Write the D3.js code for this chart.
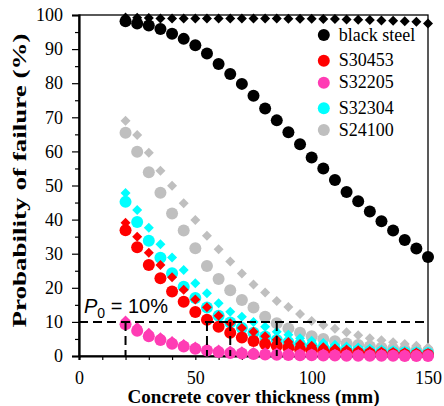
<!DOCTYPE html>
<html>
<head>
<meta charset="utf-8">
<title>Probability of failure vs cover</title>
<script src="https://cdn.jsdelivr.net/npm/d3@7/dist/d3.min.js"></script>
<style>
  body { margin: 0; background: #fff; }
</style>
</head>
<body>
<svg id="chart" width="444" height="406"></svg>
<script>
var serif = '"Liberation Serif", "Times New Roman", Times, serif';
var sans = '"Liberation Sans", Arial, Helvetica, sans-serif';

// cover thickness (mm)
var cover = [20, 25, 30, 35, 40, 45, 50, 55, 60, 65, 70, 75, 80, 85, 90, 95, 100,
  105, 110, 115, 120, 125, 130, 135, 140, 145, 150];

// probability of failure (%), circles and diamonds per steel
var blackCircle = [98.2, 97.5, 96.9, 95.9, 94.5, 93.0, 91.1, 88.7, 85.6, 82.7, 79.8, 76.3, 72.6, 69.1,
  65.6, 62.1, 58.2, 55.0, 51.6, 48.1, 45.4, 42.4, 39.5, 36.8, 34.0, 31.5, 29.0];
var blackDiamond = [99.3, 99.2, 99.1, 99.0, 99.0, 99.0, 99.0, 99.0, 99.0, 99.0, 99.0, 99.0, 99.0, 99.0,
  98.9, 98.9, 98.9, 98.8, 98.8, 98.7, 98.6, 98.5, 98.4, 98.3, 98.2, 98.0, 97.5];
var redCircle = [36.9, 31.9, 26.7, 22.8, 18.9, 15.9, 12.9, 10.6, 8.6, 6.8, 5.4, 4.4, 3.5, 2.9,
  2.4, 2.0, 1.7, 1.4, 1.2, 1.0, 0.85, 0.7, 0.6, 0.5, 0.45, 0.4, 0.35];
var redDiamond = [39.1, 35.0, 30.3, 26.7, 23.1, 19.4, 16.6, 14.3, 11.8, 9.6, 8.2, 7.1, 5.8, 4.8,
  4.1, 3.5, 3.0, 2.6, 2.2, 1.9, 1.7, 1.5, 1.3, 1.2, 1.1, 1.0, 0.9];
var pinkCircle = [9.3, 7.4, 5.8, 4.7, 3.6, 2.8, 2.1, 1.6, 1.2, 0.9, 0.7, 0.55, 0.45, 0.35,
  0.3, 0.25, 0.2, 0.15, 0.12, 0.1, 0.08, 0.06, 0.05, 0.04, 0.03, 0.02, 0.02];
var pinkDiamond = [10.4, 8.5, 6.8, 5.5, 4.4, 3.5, 2.8, 2.3, 1.9, 1.6, 1.4, 1.2, 1.1, 1.0,
  0.9, 0.8, 0.75, 0.7, 0.65, 0.6, 0.6, 0.55, 0.55, 0.5, 0.5, 0.5, 0.5];
var cyanCircle = [45.2, 39.3, 33.8, 28.8, 24.3, 20.3, 17.0, 14.2, 11.8, 9.8, 8.2, 6.8, 5.7, 4.7,
  4.0, 3.4, 2.9, 2.5, 2.1, 1.8, 1.6, 1.4, 1.2, 1.1, 1.0, 0.9, 0.8];
var cyanDiamond = [47.8, 42.8, 37.6, 32.8, 28.9, 25.2, 21.3, 18.4, 15.5, 13.0, 11.5, 10.0, 8.6, 7.1,
  6.2, 5.2, 4.5, 3.8, 3.3, 2.8, 2.5, 2.2, 1.9, 1.7, 1.5, 1.4, 1.3];
var grayCircle = [65.5, 59.9, 53.9, 47.9, 41.8, 36.8, 31.6, 26.4, 22.6, 19.3, 16.4, 14.2, 11.5, 9.6,
  8.1, 6.8, 5.8, 5.0, 4.3, 3.7, 3.2, 2.8, 2.4, 2.1, 1.8, 1.6, 1.4];
var grayDiamond = [69.0, 64.8, 59.6, 54.3, 49.9, 44.8, 39.9, 35.3, 31.3, 27.7, 24.2, 21.0, 18.6, 16.1,
  14.4, 12.3, 10.3, 9.1, 8.0, 7.0, 6.1, 5.2, 4.6, 4.0, 3.5, 3.0, 2.5];

var legendNames = ['black steel', 'S30453', 'S32205', 'S32304', 'S24100'];
var legendColors = ['#000000', '#ff0000', '#ff3cb4', '#00ffff', '#bfbfbf'];

// tick values
var xTicks = [0, 10, 20, 30, 40, 50, 60, 70, 80, 90, 100, 110, 120, 130, 140, 150];
var yTicks = [0, 10, 20, 30, 40, 50, 60, 70, 80, 90, 100];
var yMinor = [5, 15, 25, 35, 45, 55, 65, 75, 85, 95];

// P0 threshold and the cover where each steel reaches it
var p0 = 10;
var p0Covers = [20, 55, 65, 85];

var svg = d3.select('#chart'),
  margin = { top: 15, right: 16, bottom: 50, left: 79 },
  width = +svg.attr('width') - margin.left - margin.right,
  height = +svg.attr('height') - margin.top - margin.bottom,
  g = svg.append('g').attr('transform', 'translate(' + margin.left + ',' + margin.top + ')');

var x = d3.scaleLinear().domain([0, 150]).range([0, width]);
var y = d3.scaleLinear().domain([0, 100]).range([height, 0]);

// frame
g.append('rect')
  .attr('width', width).attr('height', height)
  .attr('fill', 'none').attr('stroke', '#000').attr('stroke-width', 1.3);

// x axis: ticks every 10, labels every 50
var xAxis = g.append('g')
  .attr('transform', 'translate(0,' + height + ')')
  .call(d3.axisBottom(x)
    .tickValues(xTicks)
    .tickSize(4).tickPadding(11)
    .tickFormat(function(d) { return d % 50 === 0 ? d : ''; }));

// y axis: minor ticks at 5s, labelled majors at 10s
g.append('g')
  .call(d3.axisLeft(y).tickValues(yMinor).tickSize(4).tickFormat(''))
  .select('.domain').remove();
var yAxis = g.append('g')
  .call(d3.axisLeft(y).tickValues(yTicks).tickSize(7).tickPadding(9));

[xAxis, yAxis].forEach(function(a) {
  a.attr('font-family', serif).attr('font-size', 18);
  a.selectAll('text').attr('fill', '#000');
  a.select('.domain').attr('stroke-width', 2.2);
});
g.selectAll('.tick line').attr('stroke-width', 1.2);

var diamond = d3.symbol().type(d3.symbolSquare).size(50);

function drawCircles(vals, color) {
  g.append('g').selectAll('circle')
    .data(vals)
    .join('circle')
    .attr('cx', function(d, i) { return x(cover[i]); })
    .attr('cy', function(d) { return y(d); })
    .attr('r', 6)
    .attr('fill', color);
}

function drawDiamonds(vals, color) {
  g.append('g').selectAll('path')
    .data(vals)
    .join('path')
    .attr('d', diamond)
    .attr('transform', function(d, i) {
      return 'translate(' + x(cover[i]) + ',' + y(d) + ') rotate(45)';
    })
    .attr('fill', color);
}

drawDiamonds(blackDiamond, legendColors[0]);
drawCircles(blackCircle, legendColors[0]);
drawDiamonds(grayDiamond, legendColors[4]);
drawCircles(grayCircle, legendColors[4]);
drawDiamonds(cyanDiamond, legendColors[3]);
drawCircles(cyanCircle, legendColors[3]);
drawDiamonds(redDiamond, legendColors[1]);
drawCircles(redCircle, legendColors[1]);
drawDiamonds(pinkDiamond, legendColors[2]);
drawCircles(pinkCircle, legendColors[2]);

// P0 dashed lines
g.append('line')
  .attr('x1', x(0)).attr('x2', x(150))
  .attr('y1', y(p0)).attr('y2', y(p0))
  .attr('stroke', '#000').attr('stroke-width', 2).attr('stroke-dasharray', '9,5');
g.selectAll('.p0v')
  .data(p0Covers)
  .join('line')
  .attr('class', 'p0v')
  .attr('x1', function(d) { return x(d); }).attr('x2', function(d) { return x(d); })
  .attr('y1', y(p0)).attr('y2', y(0))
  .attr('stroke', '#000').attr('stroke-width', 2).attr('stroke-dasharray', '9,5');

var p0Label = g.append('text')
  .attr('x', 5).attr('y', y(p0) - 9)
  .attr('font-family', sans)
  .attr('font-size', 20);
p0Label.append('tspan').attr('font-style', 'italic').text('P');
p0Label.append('tspan').attr('font-size', 14).attr('dy', 5).text('0');
p0Label.append('tspan').attr('dy', -5).text(' = 10%');

// legend
var legendY = [0, 25.7, 47.7, 73.3, 95];
var legend = g.append('g').attr('transform', 'translate(' + (x(105) + 0.5) + ',20)');
legend.selectAll('circle')
  .data(legendNames)
  .join('circle')
  .attr('cx', 0)
  .attr('cy', function(d, i) { return legendY[i]; })
  .attr('r', 6)
  .attr('fill', function(d, i) { return legendColors[i]; });
legend.selectAll('text')
  .data(legendNames)
  .join('text')
  .attr('x', 15)
  .attr('y', function(d, i) { return legendY[i]; })
  .attr('dy', '0.32em')
  .attr('font-family', serif)
  .attr('font-size', 18)
  .text(function(d) { return d; });

// axis titles
g.append('text')
  .attr('x', width / 2).attr('y', height + 47)
  .attr('text-anchor', 'middle')
  .attr('font-family', serif)
  .attr('font-size', 18.5).attr('font-weight', 'bold')
  .attr('textLength', 252).attr('lengthAdjust', 'spacingAndGlyphs')
  .text('Concrete cover thickness (mm)');
g.append('text')
  .attr('transform', 'translate(' + (-53) + ',' + (height / 2 - 5) + ') rotate(-90)')
  .attr('text-anchor', 'middle')
  .attr('font-family', serif)
  .attr('font-size', 19).attr('font-weight', 'bold')
  .attr('textLength', 294).attr('lengthAdjust', 'spacingAndGlyphs')
  .text('Probability of failure (%)');
</script>
</body>
</html>
